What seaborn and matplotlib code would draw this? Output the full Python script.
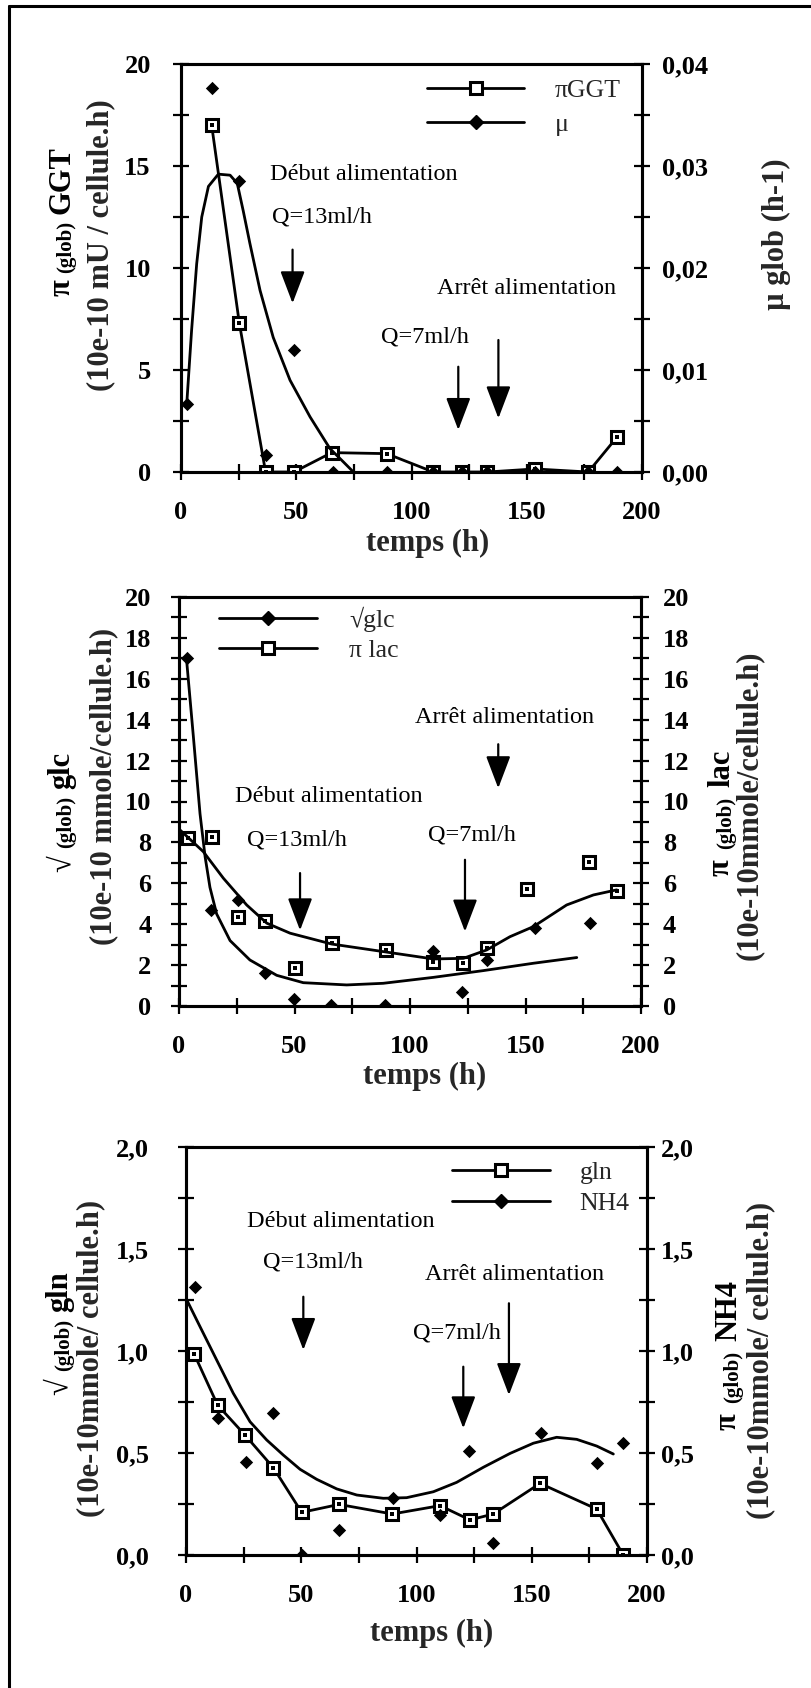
import matplotlib
matplotlib.use("Agg")
import matplotlib.pyplot as plt
import seaborn as sns
from matplotlib.lines import Line2D

# ---------------- data ----------------
# Panel 1 : pi GGT (left axis) and mu (right axis)
P1_TIME_GGT = [13.3, 25.3, 36.7, 49.0, 65.4, 89.2, 109.5, 122.0, 132.9, 153.6, 176.7, 189.3]
P1_GGT = [17.0, 7.3, 0.0, 0.0, 0.95, 0.9, 0.0, 0.0, 0.0, 0.15, 0.0, 1.73]
P1_TIME_MU = [2.5, 13.3, 25.3, 36.7, 49.0, 65.8, 89.2, 109.5, 122.0, 132.9, 153.6, 176.7, 189.3]
P1_MU = [0.0067, 0.0376, 0.0285, 0.0017, 0.0120, 0.0, 0.0, 0.0, 0.0, 0.0, 0.0, 0.0, 0.0]
P1_MU_FIT_TIME = [2.5, 4.6, 6.8, 9.0, 11.9, 16.2, 21.3, 24.4, 27.0, 29.9, 34.3, 40.0,
                  47.3, 56.0, 64.6, 70.4, 74.8]
P1_MU_FIT = [0.0067, 0.0139, 0.0204, 0.0250, 0.0280, 0.0292, 0.0291, 0.0283, 0.0256,
             0.0224, 0.0178, 0.0132, 0.0090, 0.0054, 0.0023, 0.0010, 0.0]

# Panel 2 : sqrt glc (left axis) and pi lac (right axis)
P2_TIME_GLC = [3.3, 13.9, 25.7, 37.2, 49.8, 65.8, 89.3, 109.8, 122.4, 133.2, 154.1, 177.9]
P2_GLC = [17.0, 4.7, 5.2, 1.6, 0.35, 0.05, 0.05, 2.7, 0.7, 2.25, 3.8, 4.05]
P2_TIME_LAC = [4.0, 14.1, 25.7, 37.2, 50.2, 66.1, 89.5, 110.1, 122.8, 133.5, 150.5, 177.6, 189.5]
P2_LAC = [8.2, 8.25, 4.37, 4.17, 1.85, 3.07, 2.74, 2.17, 2.09, 2.82, 5.71, 7.06, 5.6]
P2_GLC_FIT_TIME = [3.3, 6.2, 9.1, 11.3, 13.4, 16.3, 22.1, 30.7, 42.3, 53.8, 72.6, 88.4,
                   110.1, 131.7, 153.4, 172.2]
P2_GLC_FIT = [16.9, 13.2, 9.4, 7.3, 5.8, 4.5, 3.2, 2.25, 1.5, 1.14, 1.03, 1.11,
              1.4, 1.73, 2.09, 2.37]
P2_LAC_FIT_TIME = [0.5, 10.5, 19.2, 29.3, 38.0, 48.1, 66.1, 88.4, 110.1, 123.1, 133.2,
                   143.3, 153.4, 167.8, 179.4, 189.5]
P2_LAC_FIT = [8.6, 7.55, 6.25, 4.94, 4.05, 3.56, 3.03, 2.66, 2.3, 2.33, 2.74,
              3.39, 3.88, 4.94, 5.43, 5.68]

# Panel 3 : sqrt gln (left axis) and pi NH4 (right axis)
P3_TIME_GLN = [3.6, 13.7, 25.6, 37.9, 50.2, 66.4, 89.5, 110.2, 123.2, 133.3, 153.6, 178.2, 189.7]
P3_GLN = [0.984, 0.735, 0.588, 0.428, 0.209, 0.248, 0.201, 0.242, 0.172, 0.201, 0.351, 0.225, 0.0]
P3_TIME_NH4 = [3.9, 14.0, 26.0, 37.6, 50.2, 66.4, 89.9, 110.2, 122.9, 133.3, 153.9, 178.2, 189.7]
P3_NH4 = [1.315, 0.67, 0.457, 0.695, 0.0, 0.123, 0.278, 0.196, 0.511, 0.057, 0.60, 0.453, 0.55]
P3_NH4_FIT_TIME = [0.0, 6.1, 13.3, 20.5, 27.8, 35.0, 42.2, 49.5, 56.7, 65.4, 74.1, 85.6,
                   95.7, 107.3, 117.4, 129.0, 140.6, 150.7, 160.8, 169.5, 178.2, 185.4]
P3_NH4_FIT = [1.258, 1.119, 0.956, 0.793, 0.653, 0.564, 0.49, 0.42, 0.371, 0.324, 0.294, 0.278,
              0.281, 0.31, 0.356, 0.43, 0.498, 0.548, 0.577, 0.567, 0.534, 0.495]

# ticks
X_TICKS = [0, 50, 100, 150, 200]
X_TICK_LABELS = ["0", "50", "100", "150", "200"]
X_MINOR = [25, 75, 125, 175]
P1_LEFT_TICKS = [0, 5, 10, 15, 20]
P1_LEFT_LABELS = ["0", "5", "10", "15", "20"]
P1_LEFT_MINOR = [2.5, 7.5, 12.5, 17.5]
P1_RIGHT_TICKS = [0.0, 0.01, 0.02, 0.03, 0.04]
P1_RIGHT_LABELS = ["0,00", "0,01", "0,02", "0,03", "0,04"]
P1_RIGHT_MINOR = [0.005, 0.015, 0.025, 0.035]
P2_TICKS = [0, 2, 4, 6, 8, 10, 12, 14, 16, 18, 20]
P2_LABELS = ["0", "2", "4", "6", "8", "10", "12", "14", "16", "18", "20"]
P2_MINOR = [1, 3, 5, 7, 9, 11, 13, 15, 17, 19]
P3_TICKS = [0.0, 0.5, 1.0, 1.5, 2.0]
P3_LABELS = ["0,0", "0,5", "1,0", "1,5", "2,0"]
P3_MINOR = [0.25, 0.75, 1.25, 1.75]

# annotations: (text, x, y) and arrows: (x, y_start, y_tip)  (left-axis units)
P1_NOTES = [("Début alimentation", 38.6, 14.56), ("Q=13ml/h", 39.3, 12.5),
            ("Arrêt alimentation", 111.2, 9.0), ("Q=7ml/h", 86.8, 6.63)]
P1_ARROWS = [(48.4, 10.9, 8.27), (120.3, 5.16, 2.06), (137.7, 6.47, 2.63)]
P2_NOTES = [("Début alimentation", 24.2, 10.25), ("Q=13ml/h", 29.3, 8.1),
            ("Arrêt alimentation", 102.2, 14.1), ("Q=7ml/h", 107.9, 8.37)]
P2_ARROWS = [(52.4, 6.5, 3.7), (138.2, 12.8, 10.65), (123.8, 7.15, 3.64)]
P3_NOTES = [("Début alimentation", 26.3, 1.634), ("Q=13ml/h", 33.5, 1.438),
            ("Arrêt alimentation", 103.7, 1.373), ("Q=7ml/h", 98.6, 1.087)]
P3_ARROWS = [(50.9, 1.266, 1.005), (120.3, 0.923, 0.621), (140.1, 1.234, 0.784)]

# ---------------- style ----------------
sns.set_theme(style="ticks")
SERIF = ['Liberation Serif', 'DejaVu Serif']
plt.rcParams['font.family'] = SERIF

W, H = 811, 1688
fig = plt.figure(figsize=(W / 100, H / 100), dpi=100)
fig.patch.set_facecolor('white')
renderer = fig.canvas.get_renderer()

TICK_FS = 19
LABEL_FS = 22
SUB_FS = 15
NOTE_FS = 17.5
LEG_FS = 18.5
LW = 2.0
SQ_MS = 8.0
SQ_MEW = 2.2


def make_axes(L, R, T, B):
    return fig.add_axes([L / W, 1 - B / H, (R - L) / W, (B - T) / H])


def frac(box, px, py):
    L, R, T, B = box
    return (px - L) / (R - L), (B - py) / (B - T)


def style(ax, ax2, lpad, rpad, xpad=15):
    for a in (ax, ax2):
        for s in a.spines.values():
            s.set_linewidth(2.2)
            s.set_color('black')
    common = dict(direction='inout', length=11.5, width=1.6, colors='black')
    ax.tick_params(axis='x', which='both', pad=xpad, top=False, bottom=True, **common)
    ax.tick_params(axis='y', which='both', pad=lpad, left=True, right=False, **common)
    ax2.tick_params(axis='y', which='both', pad=rpad, left=False, right=True, **common)
    ax.set_xlim(0, 200)
    ax.set_xticks(X_TICKS, X_TICK_LABELS, fontsize=TICK_FS, fontweight='bold')
    ax.set_xticks(X_MINOR, minor=True)
    ax.grid(False)
    ax2.grid(False)


def notes(ax, note_list, arrow_list):
    for txt, x, y in note_list:
        ax.text(x, y, txt, fontsize=NOTE_FS, ha='left', va='center', color='black')
    for x, y0, y1 in arrow_list:
        ax.annotate('', xy=(x, y1), xytext=(x, y0),
                    arrowprops=dict(arrowstyle='-|>,head_length=1.0,head_width=0.38',
                                    mutation_scale=20, lw=1.6, color='black',
                                    shrinkA=0, shrinkB=0))


def square_series(ax, x, y, line=True):
    sns.lineplot(x=x, y=y, ax=ax, color='black', lw=LW if line else 0, marker='s',
                 ms=SQ_MS, mfc='white', mec='black', mew=SQ_MEW, sort=False)
    sns.scatterplot(x=x, y=y, ax=ax, marker='s', s=7, color='black', linewidth=0, zorder=5)


def diamond_series(ax, x, y):
    sns.scatterplot(x=x, y=y, ax=ax, marker='D', s=46, color='black', linewidth=0)


def fit_curve(ax, x, y):
    sns.lineplot(x=x, y=y, ax=ax, color='black', lw=LW, sort=False)


def stacked_label(xc, yc, parts, gap=7):
    """Rotated (90 deg) label made of parts of different sizes, centred at pixel (xc, yc)."""
    items = []
    for s, size in parts:
        t = fig.text(0, 0, s, rotation=90, rotation_mode='anchor', ha='left',
                     va='baseline', fontsize=size, fontweight='bold', color='black')
        items.append((t, t.get_window_extent(renderer).height))
    total = sum(h for _, h in items) + gap * (len(items) - 1)
    y = yc + total / 2.0
    xb = xc + 10
    for (t, h), (s, size) in zip(items, parts):
        shift = 2 if size < LABEL_FS else 0
        t.set_position(((xb + shift) / W, 1 - y / H))
        y -= h + gap


sq_handle = Line2D([], [], color='black', lw=LW, marker='s', ms=SQ_MS, mfc='white',
                   mec='black', mew=SQ_MEW)
di_handle = Line2D([], [], color='black', lw=LW, marker='D', ms=6.7)
leg_kw = dict(frameon=False, borderpad=0, borderaxespad=0, handlelength=3.8,
              prop=dict(family=SERIF, size=LEG_FS))

# ---------------- panel 1 ----------------
B1 = (181, 642, 64, 472)
ax1 = make_axes(*B1)
ax1b = ax1.twinx()
square_series(ax1, P1_TIME_GGT, P1_GGT)
diamond_series(ax1b, P1_TIME_MU, P1_MU)
fit_curve(ax1b, P1_MU_FIT_TIME, P1_MU_FIT)
style(ax1, ax1b, lpad=16, rpad=9)
ax1.set_ylim(0, 20)
ax1.set_yticks(P1_LEFT_TICKS, P1_LEFT_LABELS, fontsize=TICK_FS, fontweight='bold')
ax1.set_yticks(P1_LEFT_MINOR, minor=True)
ax1b.set_ylim(0, 0.04)
ax1b.set_yticks(P1_RIGHT_TICKS, P1_RIGHT_LABELS, fontsize=TICK_FS, fontweight='bold')
ax1b.set_yticks(P1_RIGHT_MINOR, minor=True)
notes(ax1, P1_NOTES, P1_ARROWS)
ax1b.legend([sq_handle, di_handle], ['πGGT', 'μ'], loc='upper left',
            bbox_to_anchor=(0.533, 0.962), handletextpad=1.17, labelspacing=0.42, **leg_kw)

ax1.set_xlabel('temps (h)', fontsize=LABEL_FS, fontweight='bold', va='center')
ax1.xaxis.set_label_coords(*frac(B1, 428, 543))
ax1.set_ylabel('(10e-10 mU / cellule.h)', fontsize=LABEL_FS, fontweight='bold', va='center')
ax1.yaxis.set_label_coords(*frac(B1, 101, 245))
stacked_label(59.5, 221, [('π', LABEL_FS), ('(glob)', SUB_FS), ('GGT', LABEL_FS)])
ax1b.set_ylabel('µ glob (h-1)', fontsize=LABEL_FS, fontweight='bold', va='center', rotation=90)
ax1b.yaxis.set_label_coords(*frac(B1, 776, 234))

# ---------------- panel 2 ----------------
B2 = (179, 641, 597, 1006)
ax2 = make_axes(*B2)
ax2b = ax2.twinx()
diamond_series(ax2, P2_TIME_GLC, P2_GLC)
fit_curve(ax2, P2_GLC_FIT_TIME, P2_GLC_FIT)
square_series(ax2b, P2_TIME_LAC, P2_LAC, line=False)
fit_curve(ax2b, P2_LAC_FIT_TIME, P2_LAC_FIT)
style(ax2, ax2b, lpad=14, rpad=10)
for a in (ax2, ax2b):
    a.set_ylim(0, 20)
    a.set_yticks(P2_TICKS, P2_LABELS, fontsize=TICK_FS, fontweight='bold')
    a.set_yticks(P2_MINOR, minor=True)
notes(ax2, P2_NOTES, P2_ARROWS)
ax2b.legend([di_handle, sq_handle], ['√glc', 'π lac'], loc='upper left',
            bbox_to_anchor=(0.0866, 0.977), handletextpad=1.26, labelspacing=0.3, **leg_kw)

ax2.set_xlabel('temps (h)', fontsize=LABEL_FS, fontweight='bold', va='center')
ax2.xaxis.set_label_coords(*frac(B2, 425, 1076))
ax2.set_ylabel('(10e-10 mmole/cellule.h)', fontsize=LABEL_FS, fontweight='bold', va='center')
ax2.yaxis.set_label_coords(*frac(B2, 103.5, 786))
stacked_label(59.5, 812, [('√', LABEL_FS), ('(glob)', SUB_FS), ('glc', LABEL_FS)])
ax2b.set_ylabel('(10e-10mmole/cellule.h)', fontsize=LABEL_FS, fontweight='bold',
                va='center', rotation=90)
ax2b.yaxis.set_label_coords(*frac(B2, 749, 805))
stacked_label(719, 813, [('π', LABEL_FS), ('(glob)', SUB_FS), ('lac', LABEL_FS)], gap=10)

# ---------------- panel 3 ----------------
B3 = (186, 647, 1147, 1555)
ax3 = make_axes(*B3)
ax3b = ax3.twinx()
square_series(ax3, P3_TIME_GLN, P3_GLN)
diamond_series(ax3b, P3_TIME_NH4, P3_NH4)
fit_curve(ax3b, P3_NH4_FIT_TIME, P3_NH4_FIT)
style(ax3, ax3b, lpad=21, rpad=4)
for a in (ax3, ax3b):
    a.set_ylim(0, 2)
    a.set_yticks(P3_TICKS, P3_LABELS, fontsize=TICK_FS, fontweight='bold')
    a.set_yticks(P3_MINOR, minor=True)
notes(ax3, P3_NOTES, P3_ARROWS)
ax3b.legend([sq_handle, di_handle], ['gln', 'NH4'], loc='upper left',
            bbox_to_anchor=(0.577, 0.966), handletextpad=1.17, labelspacing=0.32, **leg_kw)

ax3.set_xlabel('temps (h)', fontsize=LABEL_FS, fontweight='bold', va='center')
ax3.xaxis.set_label_coords(*frac(B3, 432, 1633))
ax3.set_ylabel('(10e-10mmole/ cellule.h)', fontsize=LABEL_FS, fontweight='bold', va='center')
ax3.yaxis.set_label_coords(*frac(B3, 90.5, 1358))
stacked_label(57, 1333, [('√', LABEL_FS), ('(glob)', SUB_FS), ('gln', LABEL_FS)])
ax3b.set_ylabel('(10e-10mmole/ cellule.h)', fontsize=LABEL_FS, fontweight='bold',
                va='center', rotation=90)
ax3b.yaxis.set_label_coords(*frac(B3, 760.5, 1360))
stacked_label(726, 1355, [('π', LABEL_FS), ('(glob)', SUB_FS), ('NH4', LABEL_FS)], gap=10)

# outer frame (left and top edges)
fig.add_artist(Line2D([9 / W, 9 / W], [0, 1 - 6 / H], transform=fig.transFigure,
                      color='black', lw=2.2))
fig.add_artist(Line2D([9 / W, 1], [1 - 6 / H, 1 - 6 / H], transform=fig.transFigure,
                      color='black', lw=2.2))

fig.savefig('out.png', dpi=100, facecolor='white')
